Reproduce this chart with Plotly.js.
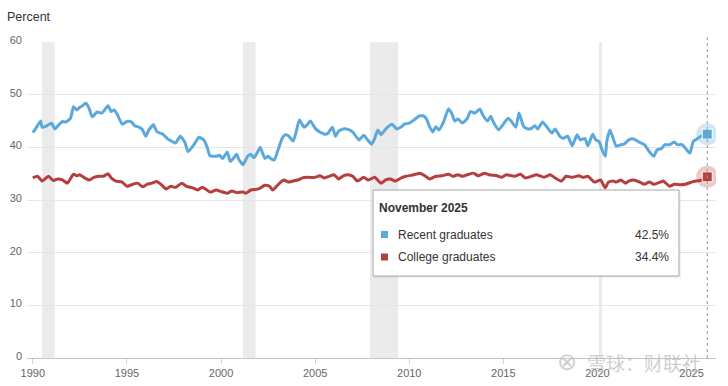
<!DOCTYPE html>
<html>
<head>
<meta charset="utf-8">
<script src="https://cdn.plot.ly/plotly-3.0.1.min.js"></script>
<style>html,body{margin:0;padding:0;background:#fff;}#chart{width:728px;height:386px;}</style>
</head>
<body>
<div id="chart"></div>
<script>
// ---- data ----
const recentDates = ["1990-01","1990-03","1990-06","1990-07","1990-10","1991-01","1991-03","1991-06","1991-08","1991-10",
"1992-01","1992-03","1992-05","1992-07","1992-09","1992-11","1993-01","1993-03","1993-06","1993-09",
"1994-01","1994-03","1994-05","1994-07","1994-10","1995-01","1995-04","1995-06","1995-09","1995-11",
"1996-01","1996-03","1996-06","1996-08","1996-12","1997-03","1997-06","1997-08","1997-11","1998-02",
"1998-04","1998-07","1998-09","1998-11","1999-02","1999-04","1999-06","1999-10","1999-12","2000-02",
"2000-05","2000-07","2000-11","2000-12","2001-03","2001-06","2001-08","2001-10","2002-01","2002-02",
"2002-05","2002-07","2002-09","2002-11","2003-01","2003-04","2003-06","2003-08","2003-11","2004-01",
"2004-03","2004-06","2004-08","2004-10","2005-01","2005-04","2005-07","2005-09","2005-12","2006-02",
"2006-04","2006-07","2006-10","2007-01","2007-05","2007-08","2007-10","2008-01","2008-03","2008-05",
"2008-07","2008-09","2008-11","2009-02","2009-05","2009-08","2009-10","2010-01","2010-05","2010-07",
"2010-10","2010-12","2011-02","2011-04","2011-06","2011-08","2011-11","2012-02","2012-04","2012-06",
"2012-08","2012-11","2013-02","2013-04","2013-07","2013-10","2013-12","2014-03","2014-05","2014-07",
"2014-10","2015-01","2015-04","2015-06","2015-09","2015-11","2016-02","2016-05","2016-07","2016-09",
"2016-11","2017-02","2017-05","2017-08","2017-10","2018-01","2018-03","2018-06","2018-09","2018-12",
"2019-02","2019-05","2019-07","2019-10","2019-12","2020-02","2020-04","2020-06","2020-07","2020-09",
"2020-11","2021-01","2021-04","2021-06","2021-09","2021-12","2022-03","2022-07","2022-10","2023-01",
"2023-03","2023-06","2023-08","2023-11","2024-02","2024-04","2024-07","2024-10","2024-12","2025-02",
"2025-04","2025-07","2025-11"];
const recentValues = [42.8,43.6,45.0,43.8,44.1,44.6,43.5,44.4,44.9,44.8,
45.5,47.7,47.1,47.6,48.0,48.4,47.3,45.8,46.7,46.5,
47.9,46.8,47.1,46.2,44.4,44.9,44.8,44.1,43.8,43.3,
42.1,43.3,44.3,43.0,42.5,41.6,41.1,40.8,42.1,40.9,
39.2,40.2,41.1,41.9,41.4,40.2,38.4,38.3,38.5,37.9,
39.1,37.3,38.7,37.9,36.7,38.3,38.7,38.0,39.5,40.0,
37.9,38.3,37.8,37.6,39.2,41.7,42.4,42.2,41.2,43.0,
45.2,43.8,44.3,45.0,43.6,42.9,42.5,42.6,43.8,42.1,
43.1,43.5,43.4,42.9,41.4,42.3,41.6,40.6,41.7,43.3,
42.4,43.1,43.8,44.4,43.5,43.9,44.4,44.6,45.4,45.9,
46.0,45.4,43.9,42.9,43.9,43.3,44.9,47.3,46.5,45.0,
45.4,44.6,45.5,46.8,46.5,47.3,46.1,45.0,45.9,44.6,
43.3,44.4,45.5,45.0,43.8,46.5,43.9,43.5,43.6,44.1,
43.5,44.8,43.8,42.7,43.5,42.1,41.7,42.1,40.3,42.4,
41.4,41.7,40.3,42.5,41.4,41.1,39.5,38.3,41.1,43.3,
41.7,40.2,40.5,40.6,41.4,41.6,41.1,40.5,39.2,38.3,
39.5,39.8,40.5,40.5,41.0,40.5,40.5,39.5,38.9,41.1,
41.5,42.1,42.5];

const collegeDates = ["1990-01","1990-04","1990-07","1990-11","1991-02","1991-05","1991-08","1991-11","1992-03","1992-05",
"1992-07","1992-10","1993-01","1993-04","1993-07","1993-10","1994-01","1994-03","1994-06","1994-10",
"1995-01","1995-04","1995-08","1995-11","1996-02","1996-05","1996-08","1996-11","1997-02","1997-05",
"1997-08","1997-12","1998-03","1998-07","1998-10","1999-01","1999-04","1999-06","1999-10","2000-01",
"2000-05","2000-08","2000-11","2001-03","2001-05","2001-08","2002-01","2002-05","2002-08","2002-10",
"2003-01","2003-05","2003-08","2003-11","2004-02","2004-05","2004-08","2005-01","2005-04","2005-07",
"2005-10","2006-01","2006-04","2006-07","2006-10","2007-01","2007-04","2007-08","2007-11","2008-03",
"2008-07","2008-10","2009-01","2009-04","2009-08","2009-11","2010-04","2010-08","2010-11","2011-02",
"2011-06","2011-10","2012-02","2012-05","2012-08","2012-11","2013-03","2013-06","2013-09","2014-01",
"2014-04","2014-09","2014-12","2015-03","2015-08","2015-12","2016-03","2016-07","2016-10","2017-03",
"2017-07","2017-10","2018-02","2018-05","2018-09","2019-01","2019-04","2019-07","2019-11","2020-03",
"2020-06","2020-08","2020-11","2021-01","2021-04","2021-07","2021-09","2021-12","2022-04","2022-07",
"2022-10","2023-01","2023-05","2023-07","2023-11","2024-02","2024-06","2024-09","2025-01","2025-04",
"2025-08","2025-11"];
const collegeValues = [34.2,34.5,33.6,34.5,33.7,34.0,33.8,33.2,34.9,34.6,
34.8,34.2,33.8,34.3,34.5,34.5,35.0,34.2,33.6,33.4,
32.6,32.9,33.2,32.5,33.0,33.2,33.5,32.9,32.1,32.6,
32.4,33.2,32.6,32.3,31.9,32.4,31.9,31.5,31.9,31.6,
31.3,31.7,31.4,31.5,31.3,31.9,32.1,32.8,32.6,31.9,
32.8,33.8,33.4,33.6,33.8,34.2,34.3,34.3,34.6,34.2,
34.5,34.8,34.0,34.6,34.8,34.5,33.6,34.3,33.8,34.3,
33.2,33.8,34.0,33.6,34.2,34.5,34.8,35.1,34.6,34.0,
34.5,34.6,34.9,34.5,34.8,34.5,34.9,35.1,34.6,35.1,
34.8,34.6,34.3,34.8,34.5,34.9,34.2,34.5,34.8,34.3,
34.8,34.2,33.6,34.5,34.3,34.6,34.3,34.5,33.4,33.8,
32.3,33.4,33.6,33.4,33.8,33.2,33.6,33.8,33.4,33.0,
33.4,33.0,33.4,33.6,32.6,33.0,32.9,33.0,33.4,33.6,
33.8,34.4];

const seriesNames = ["Recent graduates", "College graduates"];
const recessionStarts = ["1990-07-01","2001-03-01","2007-12-01","2020-02-01"];
const recessionEnds   = ["1991-03-01","2001-11-01","2009-06-01","2020-04-01"];
const yTicks = [0,10,20,30,40,50,60];
const tooltipTitle = "November 2025";

// ---- styling ----
const BLUE = "#5ba8dd", RED = "#b63f3e";
const FONT = "Liberation Sans, Arial, sans-serif";
const L = 27, R = 716, T = 42, B = 358;
const px = x => (x - L) / (R - L);
const py = y => (B - y) / (B - T);

const shapes = [];
recessionStarts.forEach((s, i) => {
  shapes.push({type:"rect", xref:"x", yref:"paper", x0:s, x1:recessionEnds[i], y0:0, y1:1,
    fillcolor:"#ebebeb", line:{width:0}, layer:"below"});
});
const lastDate = recentDates[recentDates.length-1];
shapes.push({type:"line", xref:"x", yref:"paper", x0:lastDate, x1:lastDate, y0:0, y1:1.02,
  line:{color:"#9a9a9a", width:1, dash:"dot"}, layer:"above"});
// tooltip box
shapes.push({type:"rect", xref:"paper", yref:"paper", x0:px(374), x1:px(681), y0:py(278), y1:py(191),
  fillcolor:"rgba(0,0,0,0.06)", line:{width:0}, layer:"above"});
shapes.push({type:"rect", xref:"paper", yref:"paper", x0:px(373), x1:px(679), y0:py(276), y1:py(190),
  fillcolor:"#ffffff", line:{color:"#a8a8a8", width:1}, layer:"above"});
// tooltip colour keys
shapes.push({type:"rect", xref:"paper", yref:"paper", x0:px(381), x1:px(388), y0:py(238), y1:py(231),
  fillcolor:BLUE, line:{width:0}, layer:"above"});
shapes.push({type:"rect", xref:"paper", yref:"paper", x0:px(381), x1:px(388), y0:py(260.5), y1:py(253.5),
  fillcolor:RED, line:{width:0}, layer:"above"});

const lastRecent = recentValues[recentValues.length-1];
const lastCollege = collegeValues[collegeValues.length-1];

const annotations = [
  {xref:"paper", yref:"paper", x:px(5), y:py(17), xanchor:"left", yanchor:"middle", showarrow:false,
   text:"Percent", font:{family:FONT, size:12.5, color:"#333"}},
  {xref:"paper", yref:"paper", x:px(377), y:py(208.5), xanchor:"left", yanchor:"middle", showarrow:false,
   text:"<b>"+tooltipTitle+"</b>", font:{family:FONT, size:12, color:"#333"}},
  {xref:"paper", yref:"paper", x:px(396), y:py(234.5), xanchor:"left", yanchor:"middle", showarrow:false,
   text:seriesNames[0], font:{family:FONT, size:12, color:"#333"}},
  {xref:"paper", yref:"paper", x:px(396), y:py(257), xanchor:"left", yanchor:"middle", showarrow:false,
   text:seriesNames[1], font:{family:FONT, size:12, color:"#333"}},
  {xref:"paper", yref:"paper", x:px(671), y:py(234.5), xanchor:"right", yanchor:"middle", showarrow:false,
   text:lastRecent.toFixed(1)+"%", font:{family:FONT, size:12, color:"#333"}},
  {xref:"paper", yref:"paper", x:px(671), y:py(257), xanchor:"right", yanchor:"middle", showarrow:false,
   text:lastCollege.toFixed(1)+"%", font:{family:FONT, size:12, color:"#333"}},
  {xref:"paper", yref:"paper", x:px(585), y:py(362), xanchor:"left", yanchor:"middle", showarrow:false,
   text:"雪球：财联社", font:{family:"Noto Sans CJK SC", size:19, color:"rgba(190,190,190,0.75)"}},
  {xref:"paper", yref:"paper", x:px(567), y:py(362), xanchor:"center", yanchor:"middle", showarrow:false,
   text:"⊗", font:{family:"DejaVu Sans", size:24, color:"rgba(190,190,190,0.75)"}}
];

const traces = [
  {x:recentDates, y:recentValues, type:"scatter", mode:"lines", name:seriesNames[0],
   line:{color:BLUE, width:3, shape:"spline", smoothing:0.5}, hoverinfo:"skip"},
  {x:collegeDates, y:collegeValues, type:"scatter", mode:"lines", name:seriesNames[1],
   line:{color:RED, width:3, shape:"spline", smoothing:0.5}, hoverinfo:"skip"},
  {x:[lastDate, collegeDates[collegeDates.length-1]], y:[lastRecent, lastCollege], type:"scatter", mode:"markers",
   marker:{symbol:"circle", size:22, color:["rgba(91,168,221,0.28)","rgba(182,63,62,0.28)"]}, hoverinfo:"skip", showlegend:false},
  {x:[lastDate, collegeDates[collegeDates.length-1]], y:[lastRecent, lastCollege], type:"scatter", mode:"markers",
   marker:{symbol:"square", size:10, color:[BLUE, RED], line:{color:"#ffffff", width:1}}, hoverinfo:"skip", showlegend:false}
];

const layout = {
  width:728, height:386,
  margin:{l:L, r:728-R, t:T, b:386-B, pad:0},
  paper_bgcolor:"#fff", plot_bgcolor:"#fff",
  showlegend:false,
  font:{family:FONT, size:11, color:"#666"},
  xaxis:{type:"date", range:["1989-09-10","2026-04-20"], tick0:"1990-01-01", dtick:"M60", tickformat:"%Y",
    showgrid:false, zeroline:false, showline:true, linecolor:"#c4c4c4", linewidth:1,
    ticks:"outside", ticklen:5, tickcolor:"#ccd6eb", tickwidth:1,
    tickfont:{family:FONT, size:11, color:"#666"}, automargin:false, fixedrange:true},
  yaxis:{range:[0,60], tickvals:yTicks, ticktext:yTicks.map(String), showgrid:true, gridcolor:"#e6e6e6", gridwidth:1,
    zeroline:false, showline:false, ticks:"", ticklabelstandoff:4, ticklabelshift:-2,
    tickfont:{family:FONT, size:11, color:"#666"}, automargin:false, fixedrange:true},
  shapes:shapes,
  annotations:annotations
};

Plotly.newPlot("chart", traces, layout, {displayModeBar:false, staticPlot:true});
</script>
</body>
</html>
